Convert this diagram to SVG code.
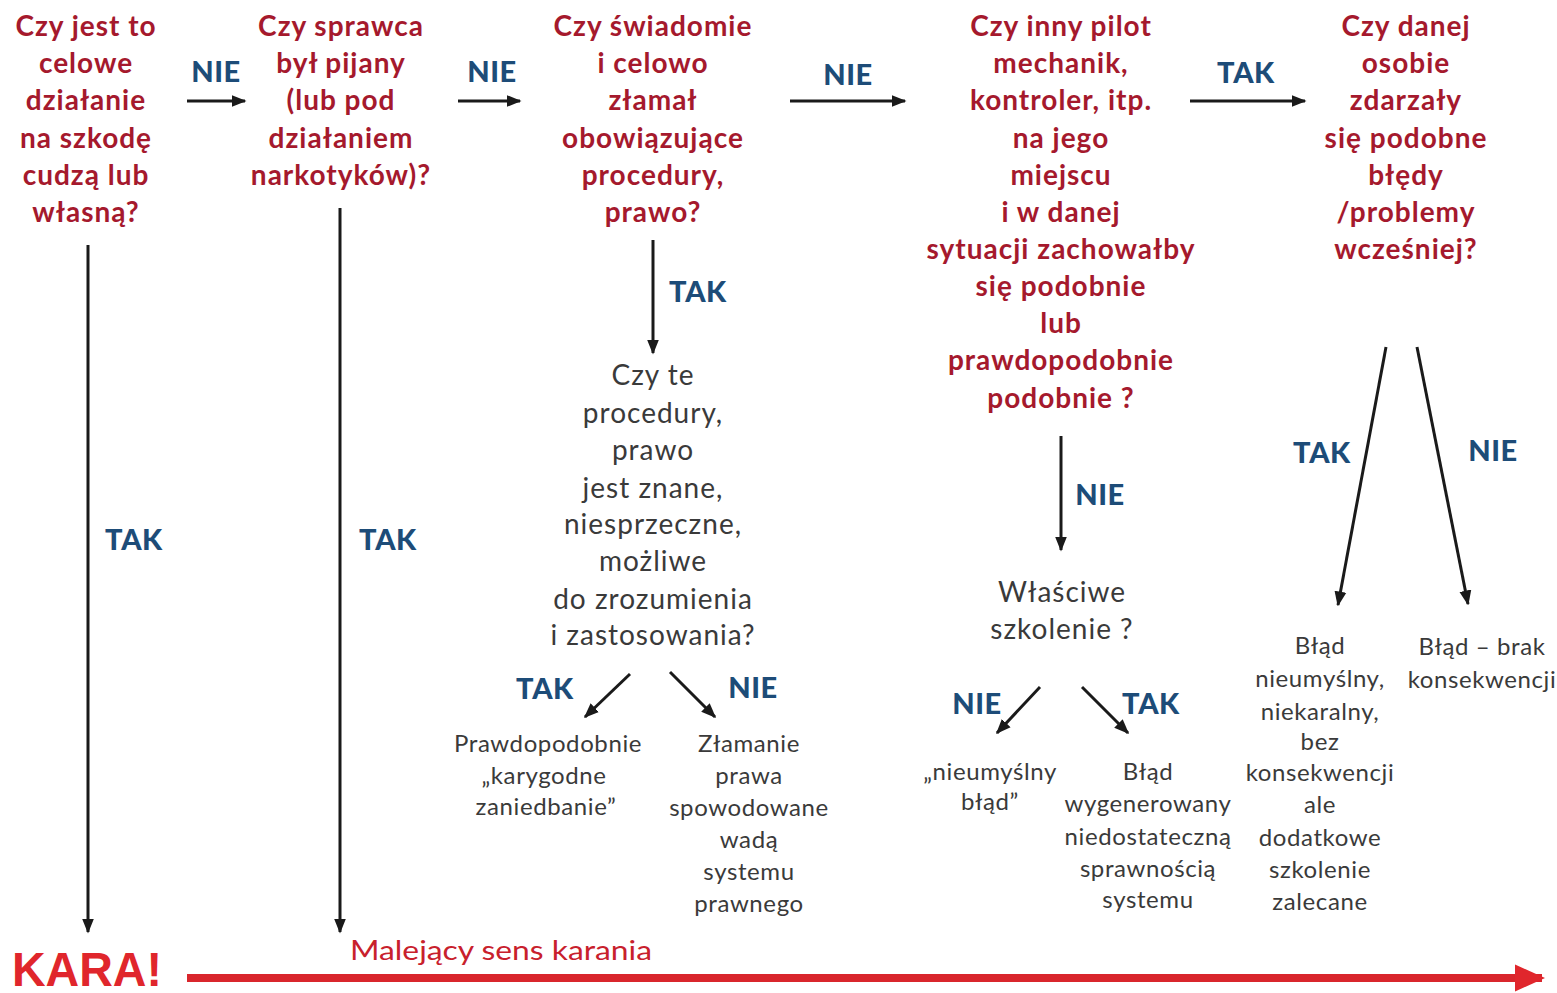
<svg xmlns="http://www.w3.org/2000/svg" width="1557" height="993" viewBox="0 0 1557 993">
<style>
.q{font-family:Lato,"Open Sans","Liberation Sans",sans-serif;font-weight:700;font-size:28px;letter-spacing:1px;fill:#a5192d;text-anchor:middle}
.g{font-family:Lato,"Open Sans","Liberation Sans",sans-serif;font-weight:400;font-size:28px;letter-spacing:1px;fill:#3a3a3a;text-anchor:middle}
.s{font-family:Lato,"Open Sans","Liberation Sans",sans-serif;font-weight:400;font-size:24px;letter-spacing:0.6px;fill:#3a3a3a;text-anchor:middle}
.l{font-family:Lato,"Open Sans","Liberation Sans",sans-serif;font-weight:900;font-size:29px;letter-spacing:0.6px;fill:#1d4c78;text-anchor:middle}
.a{stroke:#1a1a1a;stroke-width:3;fill:none;marker-end:url(#ah)}
</style>
<defs>
<marker id="ah" viewBox="0 0 10 10" refX="9" refY="5" markerWidth="5" markerHeight="5" orient="auto" markerUnits="strokeWidth">
<path d="M0,1 L10,5 L0,9 Z" fill="#1a1a1a"/>
</marker>
<marker id="rh" viewBox="0 0 10 10" refX="9" refY="5" markerWidth="3.8" markerHeight="3.8" orient="auto" markerUnits="strokeWidth">
<path d="M0,0.5 L10,5 L0,9.5 Z" fill="#e0262c"/>
</marker>
</defs>
<rect width="1557" height="993" fill="#ffffff"/>

<g id="q1">
<text class="q" x="86" y="36">Czy jest to</text>
<text class="q" x="86" y="73">celowe</text>
<text class="q" x="86" y="110">działanie</text>
<text class="q" x="86" y="148">na szkodę</text>
<text class="q" x="86" y="185">cudzą lub</text>
<text class="q" x="86" y="222">własną?</text>
</g>
<g id="q2">
<text class="q" x="341" y="36">Czy sprawca</text>
<text class="q" x="341" y="73">był pijany</text>
<text class="q" x="341" y="110">(lub pod</text>
<text class="q" x="341" y="148">działaniem</text>
<text class="q" x="341" y="185">narkotyków)?</text>
</g>
<g id="q3">
<text class="q" x="653" y="36">Czy świadomie</text>
<text class="q" x="653" y="73">i celowo</text>
<text class="q" x="653" y="110">złamał</text>
<text class="q" x="653" y="148">obowiązujące</text>
<text class="q" x="653" y="185">procedury,</text>
<text class="q" x="653" y="222">prawo?</text>
</g>
<g id="q4">
<text class="q" x="1061" y="36">Czy inny pilot</text>
<text class="q" x="1061" y="73">mechanik,</text>
<text class="q" x="1061" y="110">kontroler, itp.</text>
<text class="q" x="1061" y="148">na jego</text>
<text class="q" x="1061" y="185">miejscu</text>
<text class="q" x="1061" y="222">i w danej</text>
<text class="q" x="1061" y="259">sytuacji zachowałby</text>
<text class="q" x="1061" y="296">się podobnie</text>
<text class="q" x="1061" y="333">lub</text>
<text class="q" x="1061" y="370">prawdopodobnie</text>
<text class="q" x="1061" y="408">podobnie ?</text>
</g>
<g id="q5">
<text class="q" x="1406" y="36">Czy danej</text>
<text class="q" x="1406" y="73">osobie</text>
<text class="q" x="1406" y="110">zdarzały</text>
<text class="q" x="1406" y="148">się podobne</text>
<text class="q" x="1406" y="185">błędy</text>
<text class="q" x="1406" y="222">/problemy</text>
<text class="q" x="1406" y="259">wcześniej?</text>
</g>
<g id="q6">
<text class="g" x="653" y="385">Czy te</text>
<text class="g" x="653" y="423">procedury,</text>
<text class="g" x="653" y="460">prawo</text>
<text class="g" x="653" y="498">jest znane,</text>
<text class="g" x="653" y="534">niesprzeczne,</text>
<text class="g" x="653" y="571">możliwe</text>
<text class="g" x="653" y="609">do zrozumienia</text>
<text class="g" x="653" y="645">i zastosowania?</text>
</g>
<g id="r1">
<text class="s" x="548" y="752">Prawdopodobnie</text>
<text class="s" x="544" y="784">„karygodne</text>
<text class="s" x="546" y="815">zaniedbanie”</text>
</g>
<g id="r2">
<text class="s" x="749" y="752">Złamanie</text>
<text class="s" x="749" y="784">prawa</text>
<text class="s" x="749" y="816">spowodowane</text>
<text class="s" x="749" y="848">wadą</text>
<text class="s" x="749" y="880">systemu</text>
<text class="s" x="749" y="912">prawnego</text>
</g>
<g id="q7">
<text class="g" x="1062" y="602">Właściwe</text>
<text class="g" x="1062" y="639">szkolenie ?</text>
</g>
<g id="r3">
<text class="s" x="990" y="780">„nieumyślny</text>
<text class="s" x="990" y="810">błąd”</text>
</g>
<g id="r4">
<text class="s" x="1148" y="780">Błąd</text>
<text class="s" x="1148" y="812">wygenerowany</text>
<text class="s" x="1148" y="845">niedostateczną</text>
<text class="s" x="1148" y="877">sprawnością</text>
<text class="s" x="1148" y="908">systemu</text>
</g>
<g id="r5">
<text class="s" x="1320" y="654">Błąd</text>
<text class="s" x="1320" y="687">nieumyślny,</text>
<text class="s" x="1320" y="720">niekaralny,</text>
<text class="s" x="1320" y="750">bez</text>
<text class="s" x="1320" y="781">konsekwencji</text>
<text class="s" x="1320" y="813">ale</text>
<text class="s" x="1320" y="846">dodatkowe</text>
<text class="s" x="1320" y="878">szkolenie</text>
<text class="s" x="1320" y="910">zalecane</text>
</g>
<g id="r6">
<text class="s" x="1482" y="655">Błąd – brak</text>
<text class="s" x="1482" y="688">konsekwencji</text>
</g>
<g id="kara">
<text x="12" y="986" style="font-family:'Liberation Sans',sans-serif;font-weight:700;font-size:49px;fill:#e0262c" textLength="150" lengthAdjust="spacingAndGlyphs">KARA!</text>
<text x="350" y="960" style="font-family:Lato,'Liberation Sans',sans-serif;font-weight:400;font-size:27px;fill:#c8202c" textLength="302" lengthAdjust="spacingAndGlyphs">Malejący sens karania</text>
</g>

<g id="connectors">
<line class="a" x1="187" y1="101" x2="245" y2="101"/>
<line class="a" x1="458" y1="101" x2="520" y2="101"/>
<line class="a" x1="790" y1="101" x2="905" y2="101"/>
<line class="a" x1="1190" y1="101" x2="1305" y2="101"/>
<line class="a" x1="88" y1="245" x2="88" y2="932"/>
<line class="a" x1="340" y1="208" x2="340" y2="932"/>
<line class="a" x1="653" y1="240" x2="653" y2="353"/>
<line class="a" x1="1061" y1="436" x2="1061" y2="550"/>
<line class="a" x1="630" y1="674" x2="585" y2="717"/>
<line class="a" x1="670" y1="672" x2="715" y2="717"/>
<line class="a" x1="1040" y1="687" x2="997" y2="733"/>
<line class="a" x1="1082" y1="687" x2="1128" y2="733"/>
<line class="a" x1="1386" y1="347" x2="1338" y2="605"/>
<line class="a" x1="1417" y1="347" x2="1468" y2="604"/>
<line x1="187" y1="978" x2="1542" y2="978" stroke="#d9262c" stroke-width="8" marker-end="url(#rh)"/>
<text class="l" x="216" y="82">NIE</text>
<text class="l" x="492" y="82">NIE</text>
<text class="l" x="848" y="85">NIE</text>
<text class="l" x="1246" y="83">TAK</text>
<text class="l" x="134" y="550">TAK</text>
<text class="l" x="388" y="550">TAK</text>
<text class="l" x="698" y="302">TAK</text>
<text class="l" x="1100" y="505">NIE</text>
<text class="l" x="545" y="699">TAK</text>
<text class="l" x="753" y="698">NIE</text>
<text class="l" x="977" y="714">NIE</text>
<text class="l" x="1151" y="714">TAK</text>
<text class="l" x="1322" y="463">TAK</text>
<text class="l" x="1493" y="461">NIE</text>
</g>
</svg>
